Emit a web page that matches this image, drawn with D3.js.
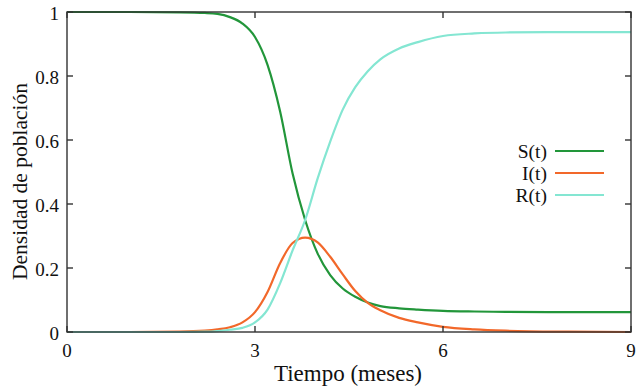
<!DOCTYPE html>
<html>
<head>
<meta charset="utf-8">
<script src="https://cdn.jsdelivr.net/npm/d3@7"></script>
</head>
<body style="margin:0; background:#fff">
<div id="chart"></div>
<script>
// time in months
const tiempo = [0, 1, 1.8, 2.2, 2.4, 2.6, 2.8, 3.0, 3.2, 3.4, 3.6, 3.8, 4.0, 4.2, 4.4, 4.6, 4.8, 5.0, 5.3, 5.6, 6.0, 6.5, 7, 8, 9];
const susceptibles = [1, 1, 0.999, 0.997, 0.994, 0.984, 0.964, 0.922, 0.835, 0.69, 0.495, 0.35, 0.245, 0.178, 0.136, 0.11, 0.092, 0.081, 0.074, 0.07, 0.066, 0.064, 0.063, 0.062, 0.062];
const infectados = [0, 0, 0.001, 0.004, 0.008, 0.015, 0.03, 0.062, 0.125, 0.215, 0.278, 0.295, 0.28, 0.235, 0.18, 0.128, 0.091, 0.068, 0.044, 0.03, 0.016, 0.008, 0.004, 0.001, 0];
const recuperados = [0, 0, 0, 0.001, 0.003, 0.007, 0.013, 0.03, 0.07, 0.152, 0.255, 0.35, 0.48, 0.595, 0.695, 0.765, 0.815, 0.852, 0.886, 0.906, 0.925, 0.933, 0.936, 0.937, 0.937];

const xTicks = [0, 3, 6, 9];
const yTicks = [0, 0.2, 0.4, 0.6, 0.8, 1];

const series = [
    { name: "S(t)", values: susceptibles, color: "#22963a" },
    { name: "I(t)", values: infectados, color: "#f2682a" },
    { name: "R(t)", values: recuperados, color: "#84e6d2" }
];

const width = 636, height = 389;
const margin = { top: 12, right: 5, bottom: 57, left: 67 };
const serif = '"Liberation Serif"';

const svg = d3.select("#chart").append("svg")
    .attr("width", width)
    .attr("height", height)
    .style("display", "block");

const x = d3.scaleLinear().domain([0, 9]).range([margin.left, width - margin.right]);
const y = d3.scaleLinear().domain([0, 1]).range([height - margin.bottom, margin.top]);

const line = d3.line()
    .x((d, i) => x(tiempo[i]))
    .y(d => y(d))
    .curve(d3.curveMonotoneX);

// curves
svg.append("g")
    .selectAll("path")
    .data(series)
    .join("path")
    .attr("fill", "none")
    .attr("stroke", d => d.color)
    .attr("stroke-width", 2.2)
    .attr("d", d => line(d.values));

// frame + inward ticks (mirrored on top and right)
const frameColor = "#333";
const tickLen = 6;
svg.append("rect")
    .attr("x", x(0)).attr("y", y(1))
    .attr("width", x(9) - x(0)).attr("height", y(0) - y(1))
    .attr("fill", "none").attr("stroke", frameColor).attr("stroke-width", 1.4);

const ticks = svg.append("g").attr("stroke", frameColor).attr("stroke-width", 1.4);
xTicks.forEach(t => {
    ticks.append("line").attr("x1", x(t)).attr("x2", x(t)).attr("y1", y(0)).attr("y2", y(0) - tickLen);
    ticks.append("line").attr("x1", x(t)).attr("x2", x(t)).attr("y1", y(1)).attr("y2", y(1) + tickLen);
});
yTicks.forEach(t => {
    ticks.append("line").attr("x1", x(0)).attr("x2", x(0) + tickLen).attr("y1", y(t)).attr("y2", y(t));
    ticks.append("line").attr("x1", x(9)).attr("x2", x(9) - tickLen).attr("y1", y(t)).attr("y2", y(t));
});

// tick labels
svg.append("g")
    .selectAll("text")
    .data(xTicks)
    .join("text")
    .attr("x", d => x(d))
    .attr("y", y(0) + 25)
    .attr("text-anchor", "middle")
    .style("font-family", serif)
    .style("font-size", "19px")
    .attr("fill", "#111")
    .text(d => d);

svg.append("g")
    .selectAll("text")
    .data(yTicks)
    .join("text")
    .attr("x", x(0) - 8)
    .attr("y", d => y(d) + 8)
    .attr("text-anchor", "end")
    .style("font-family", serif)
    .style("font-size", "19px")
    .attr("fill", "#111")
    .text(d => d);

// axis titles
svg.append("text")
    .attr("x", (x(0) + x(9)) / 2 - 1)
    .attr("y", 381)
    .attr("text-anchor", "middle")
    .style("font-family", serif)
    .style("font-size", "23px")
    .attr("fill", "#111")
    .text("Tiempo (meses)");

svg.append("text")
    .attr("transform", "translate(27,280)rotate(-90)")
    .attr("text-anchor", "start")
    .style("font-family", serif)
    .style("font-size", "21.5px")
    .attr("fill", "#111")
    .text("Densidad de población");

// legend
const legend = svg.append("g")
    .selectAll("g")
    .data(series)
    .join("g")
    .attr("transform", (d, i) => `translate(0,${151 + i * 22})`);

legend.append("text")
    .attr("x", 547)
    .attr("y", 7)
    .attr("text-anchor", "end")
    .style("font-family", serif)
    .style("font-size", "19.5px")
    .attr("fill", "#111")
    .text(d => d.name);

legend.append("line")
    .attr("x1", 555).attr("x2", 604)
    .attr("stroke", d => d.color)
    .attr("stroke-width", 2.2);
</script>
</body>
</html>
